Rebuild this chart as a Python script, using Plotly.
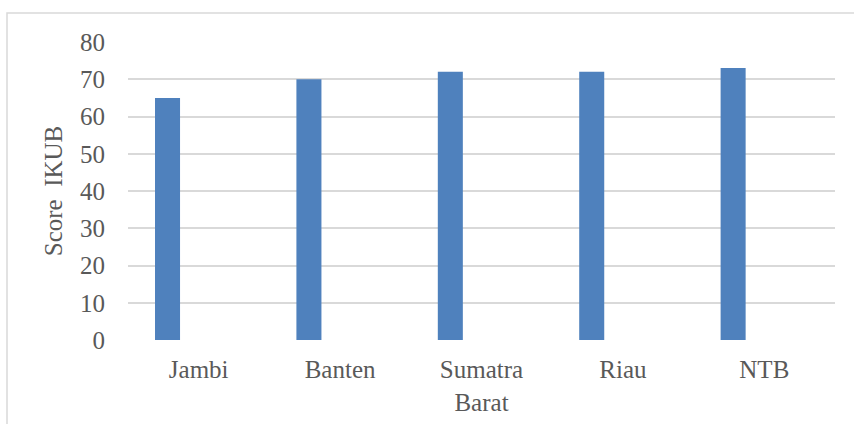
import plotly.graph_objects as go

categories = ["Jambi", "Banten", "Sumatra<br>Barat", "Riau", "NTB"]
scores = [65, 70, 72, 72, 73]
y_ticks = [0, 10, 20, 30, 40, 50, 60, 70, 80]

FONT = "Liberation Serif"
GREY = "#595959"

fig = go.Figure()
fig.add_trace(go.Bar(
    x=categories, y=scores,
    marker=dict(color="#4f81bd", line=dict(width=0)),
    width=0.177, offset=-0.309,
    hoverinfo="x+y",
))

W, H = 854, 424
L, R, T, B = 128, 19, 42, 84
pw = W - L - R
ph = H - T - B

fig.update_layout(
    width=W, height=H,
    margin=dict(l=L, r=R, t=T, b=B, pad=0, autoexpand=False),
    paper_bgcolor="white", plot_bgcolor="white",
    showlegend=False,
    font=dict(family=FONT, size=25, color=GREY),
    xaxis=dict(
        type="category", showgrid=False, zeroline=False, showline=False,
        ticks="", tickfont=dict(family=FONT, size=25, color=GREY),
        ticklabelstandoff=12, automargin=False,
    ),
    yaxis=dict(
        range=[0, 80], tickvals=y_ticks, showgrid=True, gridcolor="#d9d9d9",
        gridwidth=1.5, zeroline=False, showline=False, ticks="",
        tickfont=dict(family=FONT, size=25, color=GREY),
        ticklabelstandoff=22, automargin=False,
        title=dict(text="Score  IKUB", font=dict(family=FONT, size=25, color=GREY), standoff=10),
    ),
    shapes=[dict(
        type="rect", xref="paper", yref="paper",
        x0=(7 - L) / pw, x1=(W + 5 - L) / pw,
        y0=-(B + 20) / ph,
        y1=(H - B - 13) / ph,
        line=dict(color="#d9d9d9", width=1.5), fillcolor="rgba(0,0,0,0)", layer="below",
    )],
)

fig.write_html("out.html")
